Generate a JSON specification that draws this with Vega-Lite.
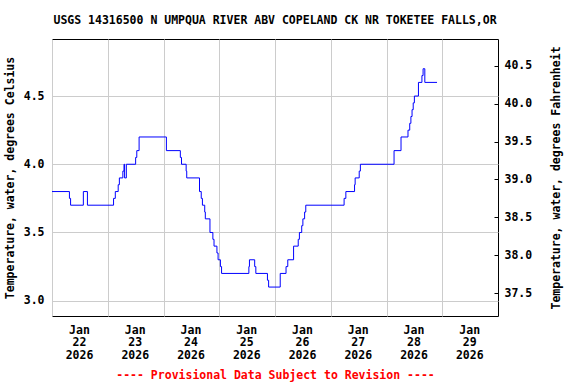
{
  "$schema": "https://vega.github.io/schema/vega-lite/v6.json",
  "width": 446,
  "height": 277,
  "autosize": {"type": "none"},
  "padding": {"left": 52, "top": 39, "right": 78, "bottom": 68},
  "background": "white",
  "title": {
    "text": "USGS 14316500 N UMPQUA RIVER ABV COPELAND CK NR TOKETEE FALLS,OR",
    "font": "DejaVu Sans Mono",
    "fontSize": 11.5,
    "fontWeight": "bold",
    "color": "black",
    "anchor": "middle",
    "offset": 13
  },
  "config": {
    "view": {"stroke": "black", "strokeWidth": 1},
    "axis": {
      "labelFont": "DejaVu Sans Mono",
      "labelFontSize": 11.5,
      "labelFontWeight": "bold",
      "labelColor": "black",
      "titleFont": "DejaVu Sans Mono",
      "titleFontSize": 11.5,
      "titleFontWeight": "bold",
      "titleColor": "black",
      "gridColor": "#cccccc",
      "gridWidth": 1,
      "gridOpacity": 1,
      "domain": false
    }
  },
  "data": {
    "values": [
      {"time": "2026-01-22T00:00", "temp": 3.8},
      {"time": "2026-01-22T07:30", "temp": 3.75},
      {"time": "2026-01-22T08:00", "temp": 3.7},
      {"time": "2026-01-22T13:30", "temp": 3.8},
      {"time": "2026-01-22T15:15", "temp": 3.7},
      {"time": "2026-01-23T02:30", "temp": 3.75},
      {"time": "2026-01-23T03:15", "temp": 3.8},
      {"time": "2026-01-23T04:30", "temp": 3.85},
      {"time": "2026-01-23T05:00", "temp": 3.9},
      {"time": "2026-01-23T06:30", "temp": 3.95},
      {"time": "2026-01-23T07:00", "temp": 4.0},
      {"time": "2026-01-23T07:15", "temp": 3.9},
      {"time": "2026-01-23T08:00", "temp": 4.0},
      {"time": "2026-01-23T12:00", "temp": 4.05},
      {"time": "2026-01-23T12:30", "temp": 4.1},
      {"time": "2026-01-23T13:30", "temp": 4.2},
      {"time": "2026-01-24T01:15", "temp": 4.1},
      {"time": "2026-01-24T07:15", "temp": 4.05},
      {"time": "2026-01-24T07:45", "temp": 4.0},
      {"time": "2026-01-24T09:45", "temp": 3.95},
      {"time": "2026-01-24T10:00", "temp": 3.9},
      {"time": "2026-01-24T15:30", "temp": 3.8},
      {"time": "2026-01-24T16:15", "temp": 3.75},
      {"time": "2026-01-24T16:45", "temp": 3.7},
      {"time": "2026-01-24T17:45", "temp": 3.65},
      {"time": "2026-01-24T18:00", "temp": 3.6},
      {"time": "2026-01-24T20:00", "temp": 3.5},
      {"time": "2026-01-24T21:15", "temp": 3.45},
      {"time": "2026-01-24T21:45", "temp": 3.4},
      {"time": "2026-01-24T23:00", "temp": 3.35},
      {"time": "2026-01-24T23:30", "temp": 3.3},
      {"time": "2026-01-25T00:30", "temp": 3.25},
      {"time": "2026-01-25T01:00", "temp": 3.2},
      {"time": "2026-01-25T12:45", "temp": 3.25},
      {"time": "2026-01-25T13:00", "temp": 3.3},
      {"time": "2026-01-25T15:15", "temp": 3.25},
      {"time": "2026-01-25T15:45", "temp": 3.2},
      {"time": "2026-01-25T20:45", "temp": 3.15},
      {"time": "2026-01-25T21:15", "temp": 3.1},
      {"time": "2026-01-26T02:15", "temp": 3.2},
      {"time": "2026-01-26T04:45", "temp": 3.25},
      {"time": "2026-01-26T05:30", "temp": 3.3},
      {"time": "2026-01-26T08:00", "temp": 3.4},
      {"time": "2026-01-26T10:00", "temp": 3.45},
      {"time": "2026-01-26T10:30", "temp": 3.5},
      {"time": "2026-01-26T11:30", "temp": 3.55},
      {"time": "2026-01-26T12:00", "temp": 3.6},
      {"time": "2026-01-26T12:45", "temp": 3.65},
      {"time": "2026-01-26T13:15", "temp": 3.7},
      {"time": "2026-01-27T05:45", "temp": 3.75},
      {"time": "2026-01-27T06:30", "temp": 3.8},
      {"time": "2026-01-27T10:15", "temp": 3.85},
      {"time": "2026-01-27T10:30", "temp": 3.9},
      {"time": "2026-01-27T12:15", "temp": 3.95},
      {"time": "2026-01-27T12:45", "temp": 4.0},
      {"time": "2026-01-28T03:15", "temp": 4.1},
      {"time": "2026-01-28T06:15", "temp": 4.2},
      {"time": "2026-01-28T09:15", "temp": 4.25},
      {"time": "2026-01-28T10:00", "temp": 4.3},
      {"time": "2026-01-28T10:30", "temp": 4.35},
      {"time": "2026-01-28T11:00", "temp": 4.4},
      {"time": "2026-01-28T11:30", "temp": 4.45},
      {"time": "2026-01-28T12:00", "temp": 4.5},
      {"time": "2026-01-28T13:45", "temp": 4.6},
      {"time": "2026-01-28T15:15", "temp": 4.65},
      {"time": "2026-01-28T15:45", "temp": 4.7},
      {"time": "2026-01-28T16:30", "temp": 4.6},
      {"time": "2026-01-28T21:45", "temp": 4.6}
    ]
  },
  "encoding": {
    "x": {
      "field": "time",
      "type": "temporal",
      "scale": {
        "domain": [
          {"year": 2026, "month": 1, "date": 22},
          {"year": 2026, "month": 1, "date": 30}
        ]
      },
      "axis": {
        "title": "---- Provisional Data Subject to Revision ----",
        "titleColor": "#ff0000",
        "titlePadding": 9,
        "values": [
          {"year": 2026, "month": 1, "date": 22},
          {"year": 2026, "month": 1, "date": 23},
          {"year": 2026, "month": 1, "date": 24},
          {"year": 2026, "month": 1, "date": 25},
          {"year": 2026, "month": 1, "date": 26},
          {"year": 2026, "month": 1, "date": 27},
          {"year": 2026, "month": 1, "date": 28},
          {"year": 2026, "month": 1, "date": 29}
        ],
        "labelExpr": "[timeFormat(datum.value, '%b'), timeFormat(datum.value, '%d'), timeFormat(datum.value, '%Y')]",
        "labelOffset": 27,
        "labelLineHeight": 12.5,
        "labelBaseline": "top",
        "labelPadding": 8,
        "labelFlush": false,
        "labelOverlap": false,
        "ticks": false,
        "grid": true
      }
    }
  },
  "layer": [
    {
      "mark": {"type": "line", "interpolate": "step-after", "color": "#0000ff", "strokeWidth": 1},
      "encoding": {
        "y": {
          "field": "temp",
          "type": "quantitative",
          "scale": {"domain": [2.888, 4.918], "nice": false, "zero": false},
          "axis": {
            "title": "Temperature, water, degrees Celsius",
            "orient": "left",
            "values": [3.0, 3.5, 4.0, 4.5],
            "format": ".1f",
            "ticks": false,
            "grid": true,
            "labelPadding": 8,
            "titlePadding": 8
          }
        }
      }
    },
    {
      "mark": {"type": "line", "interpolate": "step-after", "opacity": 0},
      "encoding": {
        "y": {
          "field": "temp",
          "type": "quantitative",
          "axis": {
            "title": "Temperature, water, degrees Fahrenheit",
            "orient": "right",
            "titleAngle": 270,
            "titleBaseline": "bottom",
            "values": [3.0555556, 3.3333333, 3.6111111, 3.8888889, 4.1666667, 4.4444444, 4.7222222],
            "labelExpr": "format(datum.value * 1.8 + 32, '.1f')",
            "grid": false,
            "ticks": true,
            "tickSize": -4,
            "tickColor": "black",
            "tickWidth": 1,
            "labelPadding": 10,
            "titlePadding": 30
          }
        }
      }
    }
  ],
  "resolve": {"axis": {"y": "independent"}}
}
